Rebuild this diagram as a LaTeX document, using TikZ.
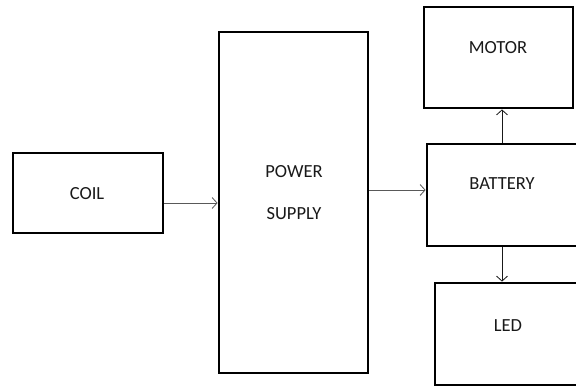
\documentclass[tikz,border=0pt]{standalone}
\usepackage{fontspec}
\setmainfont{Carlito}
\usetikzlibrary{arrows.meta}
\tikzset{
  blk/.style={draw=black, line width=2.8bp, inner sep=0pt, fill=none},
  lbl/.style={inner sep=0pt, font=\fontsize{18.5bp}{22bp}\selectfont, text=black!90},
  arr/.style={-{Straight Barb[length=5bp,width=11bp,line width=0.8bp]}, line width=0.9bp},
  harr/.style={arr, draw=black!65},
  varr/.style={arr, draw=black!90}
}
\begin{document}
\begin{tikzpicture}[x=1bp,y=-1bp]
\useasboundingbox[fill=white] (0,0) rectangle (576,385);
\node[blk, minimum width=150bp, minimum height=80bp] (coil) at (88,193) {};
\node[blk, minimum width=149bp, minimum height=341bp] (ps) at (293.5,202.5) {};
\node[blk, minimum width=149bp, minimum height=101bp] (motor) at (498.5,57.5) {};
\node[blk, minimum width=150bp, minimum height=102bp] (bat) at (502,195) {};
\node[blk, minimum width=143bp, minimum height=102bp] (led) at (506.5,334) {};
\node[lbl] (tcoil) at (87,194) {COIL};
\node[lbl] (tpower) at (294,172) {POWER};
\node[lbl] (tsupply) at (294,214) {SUPPLY};
\node[lbl] (tmotor) at (498,48) {MOTOR};
\node[lbl] (tbat) at (502,184) {BATTERY};
\node[lbl] (tled) at (508,326) {LED};
\draw[harr] ([yshift=-10bp]coil.east) -- ([yshift=-10bp]coil.east -| ps.west);
\draw[harr] ([yshift=5bp]bat.west -| ps.east) -- ([yshift=5bp]bat.west);
\draw[varr] (bat.north) -- (bat.north |- motor.south);
\draw[varr] (bat.south) -- (bat.south |- led.north);
\end{tikzpicture}
\end{document}
